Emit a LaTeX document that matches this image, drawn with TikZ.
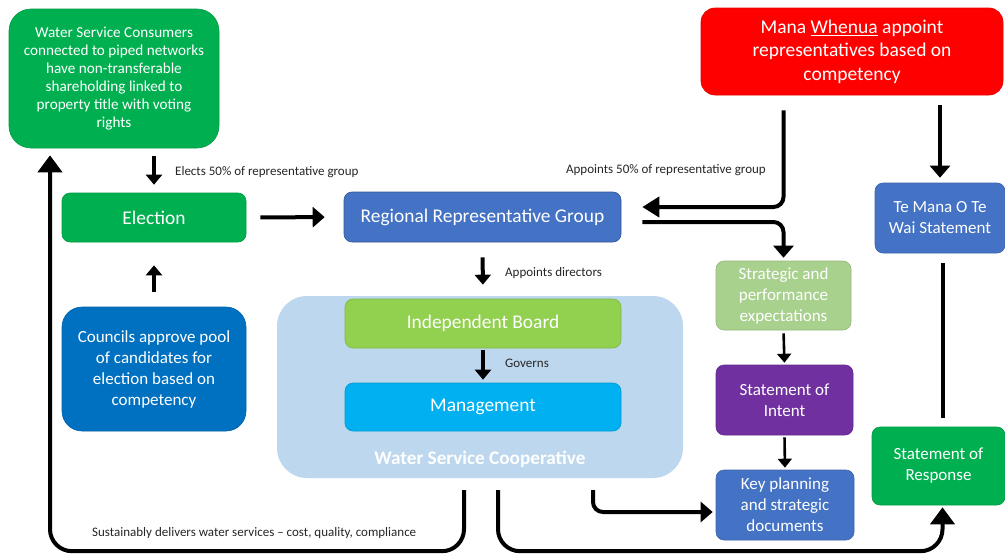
\documentclass[tikz,border=0pt]{standalone}
\usepackage{fontspec}
\setmainfont{Carlito}
\usetikzlibrary{arrows.meta,calc}
\definecolor{cgreen}{HTML}{00B050}
\definecolor{cblue}{HTML}{4472C4}
\definecolor{cdblue}{HTML}{0070C0}
\definecolor{cred}{HTML}{FF0000}
\definecolor{clblue}{HTML}{BDD7EE}
\definecolor{clime}{HTML}{92D050}
\definecolor{ccyan}{HTML}{00B0F0}
\definecolor{csage}{HTML}{A9D18E}
\definecolor{cpurple}{HTML}{7030A0}
\tikzset{
  box/.style={fill=#1, draw=#1!88!black, line width=0.6pt, rounded corners=8pt,
    text=white, align=center, inner sep=0pt},
  txtM/.style={font=\fontsize{17}{21}\selectfont},
  txtL/.style={font=\fontsize{19.4}{23}\selectfont},
  lbl/.style={font=\fontsize{13}{15}\selectfont, text=black!85, inner sep=0pt},
  arrA/.style={line width=4pt, -{Triangle[length=12pt,width=20pt]}},
  arrS/.style={line width=4pt, -{Triangle[length=10pt,width=16pt]}},
  arrB/.style={line width=4pt, rounded corners=22pt, -{Triangle[length=17pt,width=24pt]}},
  arrT/.style={line width=2.6pt, -{Triangle[length=9pt,width=14pt]}},
}
\begin{document}
\begin{tikzpicture}[x=1pt,y=-1pt]
\useasboundingbox[fill=white] (0,0) rectangle (1005,554);

% container
\node[fill=clblue, rounded corners=30pt, minimum width=406pt, minimum height=182pt, inner sep=0pt] (coop) at (480,387) {};
\node[font=\fontsize{19.2}{22}\selectfont\bfseries, text=white] (cooplbl) at (480,459) {Water Service Cooperative};

% boxes
\node[box=cgreen, rounded corners=22pt, minimum width=210pt, minimum height=139pt, font=\fontsize{15.2}{18}\selectfont] (cons) at (114,78.5)
  {Water Service Consumers\\connected to piped networks\\have non-transferable\\shareholding linked to\\property title with voting\\rights};
\node[box=cgreen, minimum width=184pt, minimum height=49pt, txtL] (elect) at (154,217.5) {Election};
\node[box=cblue, draw=cblue!75!black, minimum width=277pt, minimum height=50pt, txtL] (rrg) at (482.5,217) {Regional Representative Group};
\node[box=cred, rounded corners=14pt, minimum width=302pt, minimum height=87pt, font=\fontsize{19.5}{23.5}\selectfont] (mana) at (852,51.5)
  {Mana \underline{Whenua} appoint\\representatives based on\\competency};
\node[box=cblue, minimum width=130pt, minimum height=70pt, txtM] (temana) at (940,218) {Te Mana O Te\\Wai Statement};
\node[box=cdblue, rounded corners=20pt, minimum width=184pt, minimum height=124pt, txtM] (councils) at (154,369)
  {Councils approve pool\\of candidates for\\election based on\\competency};
\node[box=clime, minimum width=276pt, minimum height=49pt, txtL] (ib) at (483,323.5) {Independent Board};
\node[box=ccyan, minimum width=276pt, minimum height=48pt, txtL] (mgmt) at (483,407) {Management};
\node[box=csage, minimum width=135pt, minimum height=69pt, txtM] (strat) at (783.5,295.5) {Strategic and\\performance\\expectations};
\node[box=cpurple, minimum width=137pt, minimum height=70pt, txtM] (soi) at (784.5,400) {Statement of\\Intent};
\node[box=cblue, minimum width=138pt, minimum height=70pt, txtM] (kp) at (785,505) {Key planning\\and strategic\\documents};
\node[box=cgreen, minimum width=133pt, minimum height=78pt, txtM] (sor) at (938.5,466) {Statement of\\Response};

% labels
\node[lbl, anchor=west] (l1) at (175,172) {Elects 50\% of representative group};
\node[lbl, anchor=east] (l2) at (766,170) {Appoints 50\% of representative group};
\node[lbl, anchor=west] (l3) at (505,273) {Appoints directors};
\node[lbl, anchor=west] (l4) at (505,363) {Governs};
\node[lbl, anchor=west] (l5) at (92,533) {Sustainably delivers water services – cost, quality, compliance};

% connectors
\draw[arrS, shorten <=8pt, shorten >=8pt] (elect.north |- cons.south) -- (elect.north);
\draw[arrS, shorten <=15pt, shorten >=23pt] (councils.north) -- (elect.south);
\draw[arrA, shorten <=14pt, shorten >=19pt] (elect.east) -- (rrg.west);
\draw[arrS, shorten <=15pt, shorten >=14pt] (rrg.south) -- (ib.north);
\draw[arrS, shorten <=2pt, shorten >=3pt] (ib.south) -- (mgmt.north);
\draw[line width=4pt, rounded corners=10pt, -{Triangle[length=17pt,width=20pt]}, shorten <=15pt, shorten >=21pt] (mana.south -| strat.north) |- ([yshift=10pt]rrg.east);
\draw[arrA, rounded corners=10pt, shorten <=21pt, shorten >=3pt] ([yshift=-5pt]rrg.east) -| (strat.north);
\draw[arrA, shorten <=10pt, shorten >=5pt] (mana.south -| temana.north) -- (temana.north);
\draw[line width=4pt, shorten <=10pt, shorten >=9pt] ([xshift=3pt]temana.south) -- ([xshift=3pt]temana.south |- sor.north);
\draw[arrT, shorten <=3pt, shorten >=2pt] (strat.south) -- (soi.north);
\draw[arrT, shorten <=2pt, shorten >=2pt] (soi.south) -- (kp.north);
\draw[arrA, rounded corners=10pt, shorten <=12pt, shorten >=3pt] ([xshift=113pt]coop.south) |- ([yshift=-7pt]kp.west);
\draw[arrB, shorten <=12pt, shorten >=7pt] ([xshift=-16pt]coop.south) -- ++(0,73) -| ([xshift=-64pt]cons.south);
\draw[arrB, shorten <=12pt, shorten >=2pt] ([xshift=18pt]coop.south) -- ++(0,73) -| ([xshift=4pt]sor.south);
\end{tikzpicture}
\end{document}
